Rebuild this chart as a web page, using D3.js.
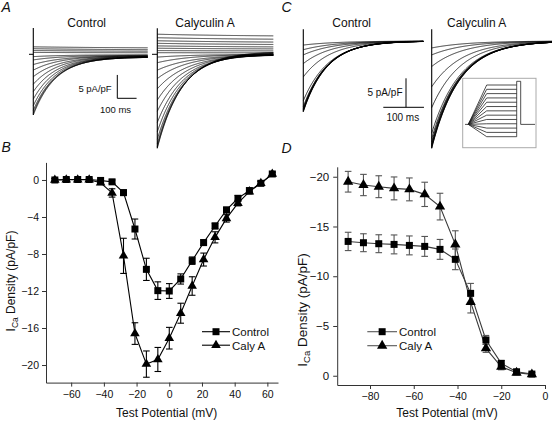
<!DOCTYPE html>
<html><head><meta charset="utf-8">
<script src="https://cdn.jsdelivr.net/npm/d3@7"></script>
<style>body{margin:0;background:#fff}svg{display:block;font-family:Arial,"Liberation Sans",Helvetica,sans-serif}</style>
</head><body><svg id="c" width="552" height="421"></svg>
<script>
// ---------- Panel B : I-V relationship ----------
const bVoltage    = [-70,-63,-56,-49,-42,-35,-28,-21,-14,-7,0,7,14,21,28,35,42,49,56,63];
const bControl    = [0,0.05,0.05,0.05,-0.05,-0.2,-1.37,-5.3,-9.66,-11.96,-12.0,-10.7,-8.72,-6.77,-4.97,-3.24,-1.98,-1.15,-0.36,0.65];
const bControlErr = [0.15,0.15,0.15,0.15,0.15,0.2,0.3,1.08,1.2,0.95,0.8,0.55,0.4,0.3,0.3,0.3,0.3,0.3,0.25,0.2];
const bCaly       = [0,0.02,0.02,0.02,-0.3,-1.4,-8.2,-16.6,-19.9,-19.4,-17.1,-14.4,-11.46,-8.6,-6.2,-4.15,-2.5,-1.26,-0.36,0.65];
const bCalyErr    = [0.15,0.15,0.15,0.15,0.2,0.45,1.9,1.17,1.42,1.3,1.17,1.08,1.0,0.7,0.6,0.4,0.3,0.25,0.2,0.2];
const bXTicks = [-60,-40,-20,0,20,40,60];
const bYTicks = [0,-4,-8,-12,-16,-20];

// ---------- Panel D : steady-state inactivation ----------
const dVoltage    = [-90,-83,-76,-69,-62,-55,-48,-41,-34,-27,-20,-13,-6];
const dControl    = [-13.5,-13.37,-13.27,-13.2,-13.1,-13.0,-12.7,-11.7,-8.28,-3.6,-1.24,-0.4,-0.17];
const dControlErr = [0.92,0.9,0.9,0.95,0.95,1.0,1.0,1.04,1.0,0.45,0.3,0.2,0.15];
const dCaly       = [-19.5,-19.17,-19.0,-18.83,-18.73,-18.23,-17.0,-13.2,-7.4,-2.75,-0.9,-0.3,-0.14];
const dCalyErr    = [1.04,1.07,1.1,1.15,1.15,1.22,1.34,1.37,1.09,0.4,0.3,0.2,0.15];
const dXTicks = [-80,-60,-40,-20,0];
const dYTicks = [0,-5,-10,-15,-20];
const holdingV = -70, testV = 0;

// ---------- Panel A traces (pA/pF, tau in ms) ----------
const aCtrlPeak = [-13.0,-12.6,-12.0,-11.0,-9.6,-8.0,-6.4,-4.8,-3.4,-2.2,-1.2,-0.5,0.4,0.8,1.2,1.6];
const aCtrlEnd  = [-0.6,-0.6,-0.6,-0.5,-0.5,-0.5,-0.4,-0.4,-0.3,-0.3,-0.2,-0.1,0.3,0.6,0.9,1.3];
const aCtrlTau  = [115,115,118,120,122,125,130,135,140,150,160,170,500,500,500,500];
const aCalyPeak = [-20.1,-19.8,-19.2,-18.2,-16.6,-14.6,-12.2,-9.8,-7.4,-5.2,-3.4,-1.8,-0.6,0.35,0.8,1.3,1.8,2.35,2.9,3.55,4.3];
const aCalyEnd  = [0.6,0.5,0.4,0.3,0.2,0.1,0,0,-0.1,-0.1,-0.1,0,0,0.3,0.7,1.1,1.5,2.0,2.5,3.1,3.8];
const aCalyTau  = [130,130,132,134,136,140,145,150,155,160,170,180,200,500,500,500,500,500,500,500,500];

// ---------- Panel C traces ----------
const cCtrlPeak = [-12.2,-12.1,-12.0,-11.9,-11.8,-11.6,-11.3,-10.3,-6.2,-3.9,-2.4,-1.5,-0.7];
const cCtrlTau  = [58,58,58,58,58,58,60,62,66,70,75,80,85];
const cCalyPeak = [-18.5,-18.4,-18.2,-18.0,-17.8,-17.4,-16.8,-15.9,-11.5,-7.9,-4.4,-2.4,-1.2];
const cCalyTau  = [68,68,68,68,68,68,70,70,72,75,78,82,86];

const svg = d3.select("#c");

// ================= IV-type panels =================
function ivPanel(o) {
  const g = svg.append("g");
  const x = d3.scaleLinear().domain(o.xDomain).range(o.xRange);
  const y = d3.scaleLinear().domain(o.yDomain).range(o.yRange);
  const axCol = "#333";
  const gx = g.append("g").attr("transform", `translate(0,${o.yRange[0]})`)
    .call(d3.axisBottom(x).tickValues(o.xTicks).tickSize(4).tickSizeOuter(0).tickPadding(4));
  const gy = g.append("g").attr("transform", `translate(${o.xRange[0]},0)`)
    .call(d3.axisLeft(y).tickValues(o.yTicks).tickSize(4).tickSizeOuter(0).tickPadding(o.yPad));
  [gx, gy].forEach(a => {
    a.select(".domain").attr("stroke", axCol).attr("stroke-width", 1);
    a.selectAll(".tick line").attr("stroke", axCol);
    a.selectAll("text").attr("fill", "#111").attr("font-family", "Arial, 'Liberation Sans', sans-serif");
  });
  gx.selectAll("text").attr("font-size", o.xFont);
  gy.selectAll("text").attr("font-size", o.yFont);

  // x title
  g.append("text").attr("x", o.xTitleX).attr("y", 417).attr("text-anchor", "middle")
    .attr("font-size", 12).attr("fill", "#111").text("Test Potential (mV)");
  // y title
  const yt = g.append("text").attr("transform", `translate(${o.yTitleX},${o.yTitleY}) rotate(-90)`)
    .attr("text-anchor", "middle").attr("font-size", o.yTitleFont).attr("fill", "#111");
  yt.append("tspan").text("I");
  yt.append("tspan").attr("dy", 3).attr("font-size", o.yTitleFont * 0.7).text("Ca");
  yt.append("tspan").attr("dy", -3).text(" Density (pA/pF)");

  const series = [
    {v: o.ctrl, e: o.ctrlErr, sym: d3.symbolSquare, size: o.sqSize},
    {v: o.caly, e: o.calyErr, sym: d3.symbolTriangle, size: o.triSize}
  ];
  series.forEach(s => {
    g.append("path").attr("fill", "none").attr("stroke", o.lineCol).attr("stroke-width", 1.1)
      .attr("d", d3.line().x((d, i) => x(o.V[i])).y(d => y(d))(s.v));
  });
  series.forEach(s => {
    const eb = g.append("g").attr("stroke", o.errCol).attr("stroke-width", 1.1);
    s.v.forEach((v, i) => {
      const cx = x(o.V[i]), y1 = y(v - s.e[i]), y2 = y(v + s.e[i]);
      eb.append("line").attr("x1", cx).attr("x2", cx).attr("y1", y1).attr("y2", y2);
      eb.append("line").attr("x1", cx - 3.3).attr("x2", cx + 3.3).attr("y1", y1).attr("y2", y1);
      eb.append("line").attr("x1", cx - 3.3).attr("x2", cx + 3.3).attr("y1", y2).attr("y2", y2);
    });
  });
  series.forEach(s => {
    s.v.forEach((v, i) => {
      g.append("path").attr("d", d3.symbol().type(s.sym).size(s.size)())
        .attr("transform", `translate(${x(o.V[i])},${y(v)})`).attr("fill", "#000");
    });
  });
  // legend
  const lg = g.append("g").attr("font-size", o.legFont).attr("fill", "#111");
  [["Control", d3.symbolSquare, o.sqSize], ["Caly A", d3.symbolTriangle, o.triSize]].forEach((L, i) => {
    const ly = o.legY + i * o.legDy;
    lg.append("line").attr("x1", o.legX0).attr("x2", o.legX1).attr("y1", ly).attr("y2", ly)
      .attr("stroke", o.legLineCol).attr("stroke-width", 1.1);
    lg.append("path").attr("d", d3.symbol().type(L[1]).size(L[2])())
      .attr("transform", `translate(${(o.legX0 + o.legX1) / 2},${ly})`).attr("fill", "#000");
    lg.append("text").attr("x", o.legX1 + 2).attr("y", ly + 4.3).text(L[0]);
  });
}

ivPanel({
  V: bVoltage, ctrl: bControl, ctrlErr: bControlErr, caly: bCaly, calyErr: bCalyErr,
  xDomain: [-75.4, 66.5], xRange: [46, 278], yDomain: [-21.9, 1.9], yRange: [382.6, 162.4],
  xTicks: bXTicks, yTicks: bYTicks, xFont: 10.5, yFont: 10.5, yPad: 3,
  xTitleX: 166.7, yTitleX: 15, yTitleY: 281, yTitleFont: 12,
  lineCol: "#000", errCol: "#000", sqSize: 49, triSize: 40,
  legX0: 202, legX1: 230, legY: 331.7, legDy: 13.5, legFont: 11.5, legLineCol: "#000"
});

ivPanel({
  V: dVoltage, ctrl: dControl, ctrlErr: dControlErr, caly: dCaly, calyErr: dCalyErr,
  xDomain: [-95, 0], xRange: [337.2, 545], yDomain: [0.93, -21], yRange: [385, 166.8],
  xTicks: dXTicks, yTicks: dYTicks, xFont: 10.5, yFont: 11.5, yPad: 4,
  xTitleX: 447, yTitleX: 306.5, yTitleY: 310, yTitleFont: 13.5,
  lineCol: "#3a3a3a", errCol: "#555", sqSize: 49, triSize: 46,
  legX0: 367.3, legX1: 397, legY: 331.7, legDy: 14, legFont: 11.5, legLineCol: "#555"
});

// ================= trace panels =================
function tracePanel(o) {
  const g = svg.append("g");
  const t = d3.scaleLinear().domain([0, o.dur]).range([o.x0, o.x1]);
  const yv = d3.scaleLinear().domain([0, 1]).range([o.base, o.base - o.k]);
  const times = d3.range(0, o.dur + 0.01, 1);
  const line = d3.line().x(d => t(d[0])).y(d => yv(d[1]));
  o.peaks.forEach((p, i) => {
    const e = o.ends ? o.ends[i] : 0, tau = o.taus[i];
    const pts = times.map(tt => [tt, e + (p - e) * Math.exp(-tt / tau)]);
    g.append("path").attr("d", line(pts)).attr("fill", "none")
      .attr("stroke", "#000").attr("stroke-width", 0.8);
  });
  g.append("line").attr("x1", o.x0).attr("x2", o.x0).attr("y1", o.topY).attr("y2", yv(d3.min(o.peaks)))
    .attr("stroke", "#000").attr("stroke-width", 1.1);
  if (o.stub) g.append("line").attr("x1", o.x0 - o.stub).attr("x2", o.x0).attr("y1", o.base).attr("y2", o.base)
    .attr("stroke", "#000").attr("stroke-width", 1);
  g.append("text").attr("x", o.labelX).attr("y", 27).attr("text-anchor", "middle")
    .attr("font-size", 12).attr("fill", "#111").text(o.label);
  return {t, yv, k: o.k};
}

const aC = tracePanel({x0: 33.3, x1: 147.7, dur: 593, base: 54.3, k: 4.67, peaks: aCtrlPeak, ends: aCtrlEnd,
  taus: aCtrlTau, topY: 28, stub: 4.3, label: "Control", labelX: 86.7});
tracePanel({x0: 157.3, x1: 273.3, dur: 601, base: 54.3, k: 4.67, peaks: aCalyPeak, ends: aCalyEnd,
  taus: aCalyTau, topY: 28.3, stub: 5.3, label: "Calyculin A", labelX: 205});
const cC = tracePanel({x0: 303.3, x1: 423.3, dur: 295, base: 41, k: 5.8, peaks: cCtrlPeak,
  taus: cCtrlTau, topY: 29.3, label: "Control", labelX: 351.7});
tracePanel({x0: 431.7, x1: 552, dur: 296, base: 41, k: 5.8, peaks: cCalyPeak,
  taus: cCalyTau, topY: 29.3, label: "Calyculin A", labelX: 476.7});

// scale bars
function scaleBar(p, vx, vBottom, hx0, hx1, fs, lblX, lblY, msX, msY) {
  const g = svg.append("g").attr("stroke", "#000").attr("stroke-width", 1);
  g.append("line").attr("x1", vx).attr("x2", vx).attr("y1", vBottom - 5 * p.k).attr("y2", vBottom);
  g.append("line").attr("x1", hx0).attr("x2", hx1).attr("y1", vBottom).attr("y2", vBottom);
  svg.append("text").attr("x", lblX).attr("y", lblY).attr("text-anchor", "end").attr("font-size", fs)
    .attr("fill", "#111").text("5 pA/pF");
  svg.append("text").attr("x", msX).attr("y", msY).attr("text-anchor", "middle").attr("font-size", fs)
    .attr("fill", "#111").text("100 ms");
}
const aMs = aC.t(100) - aC.t(0);
scaleBar(aC, 117.3, 98.3, 117.3, 117.3 + aMs, 9.5, 111.7, 92, 115.5, 113);
const cMs = cC.t(100) - cC.t(0);
scaleBar(cC, 406, 107.3, 383.3, 383.3 + cMs, 10, 402.5, 96, 402.8, 121);

// inset voltage protocol
const ins = svg.append("g");
ins.append("rect").attr("x", 462.7).attr("y", 78.3).attr("width", 73.3).attr("height", 69.4)
  .attr("fill", "#fff").attr("stroke", "#aaa").attr("stroke-width", 1);
const vy = d3.scaleLinear().domain([-90, -6]).range([136.7, 85]);
const pg = ins.append("g").attr("stroke", "#222").attr("stroke-width", 0.8).attr("fill", "none");
pg.append("line").attr("x1", 465).attr("x2", 468.3).attr("y1", vy(holdingV)).attr("y2", vy(holdingV));
dVoltage.forEach(v => {
  pg.append("path").attr("d", `M468.3,${vy(holdingV)}L486.7,${vy(v)}H516.7`);
});
pg.append("path").attr("d",
  `M516.7,${vy(d3.min(dVoltage))}V${vy(testV)}H520.7V${vy(holdingV)}H535`);

// panel letters
[["A", 1.5, 12], ["B", 1.5, 152], ["C", 281.5, 12], ["D", 281.5, 152.5]].forEach(L => {
  svg.append("text").attr("x", L[1]).attr("y", L[2]).attr("font-size", 14).attr("font-style", "italic")
    .attr("fill", "#111").text(L[0]);
});
</script></body></html>
